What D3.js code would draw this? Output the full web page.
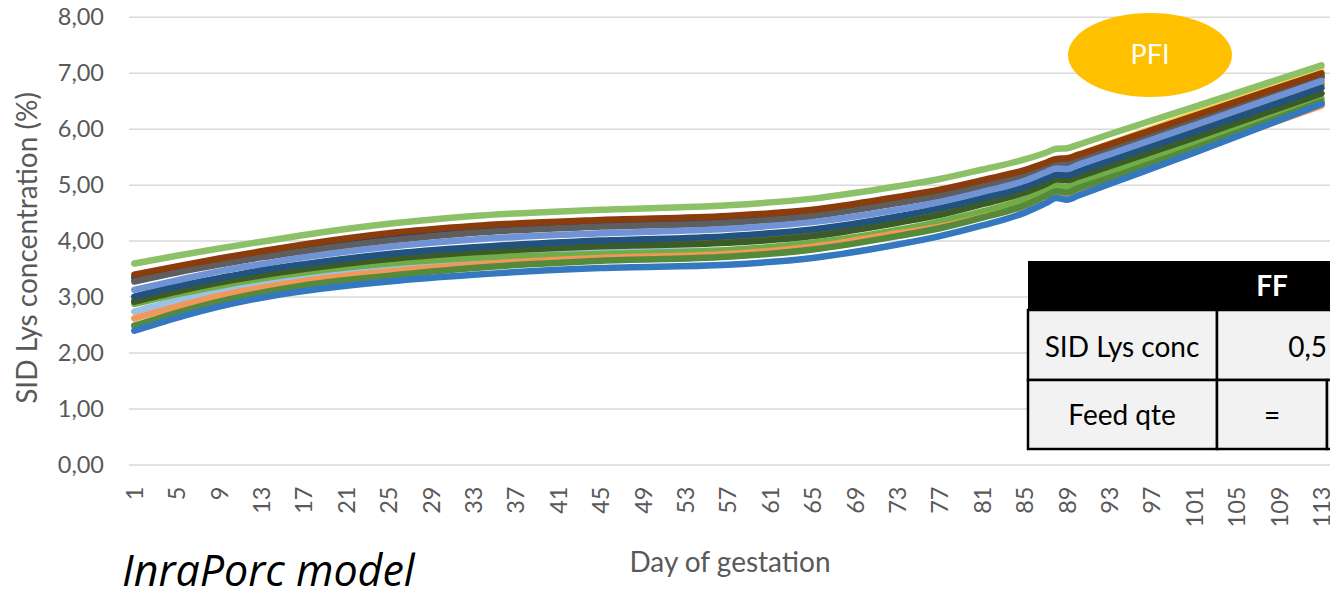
<!DOCTYPE html>
<html>
<head>
<meta charset="utf-8">
<script src="https://cdn.jsdelivr.net/npm/d3@7"></script>
<style>
body {margin:0; background:#fff;}
svg {display:block; font-family:Lato, "Open Sans", sans-serif;}
</style>
</head>
<body>
<svg id="chart"></svg>
<script>
// days (x axis is categorical, one per day of gestation)
var days = d3.range(1, 115);
var tickDays = [1,5,9,13,17,21,25,29,33,37,41,45,49,53,57,61,65,69,73,77,81,85,89,93,97,101,105,109,113];
var yTicks = [0,1,2,3,4,5,6,7,8];

// values read at these days, line drawn through them
var keyDays = [1,5,9,13,17,25,33,45,57,65,73,77,81,85,87,88,89,90,93,101,113];

var lysYellow    = [3.37,3.53,3.67,3.80,3.92,4.12,4.25,4.36,4.43,4.54,4.77,4.90,5.07,5.25,5.38,5.45,5.46,5.53,5.73,6.27,7.06];
var lysNavy      = [3.33,3.48,3.62,3.75,3.87,4.06,4.20,4.31,4.38,4.49,4.71,4.84,5.01,5.20,5.34,5.41,5.41,5.47,5.66,6.17,6.94];
var lysDarkGold  = [2.93,3.12,3.29,3.43,3.55,3.73,3.86,3.98,4.05,4.17,4.40,4.54,4.72,4.93,5.08,5.16,5.15,5.22,5.42,5.97,6.79];
var lysLightBlue = [2.73,2.93,3.10,3.24,3.35,3.52,3.65,3.81,3.82,3.91,4.14,4.26,4.43,4.63,4.80,4.88,4.85,4.92,5.11,5.63,6.46];
var lysGreen     = [2.87,3.04,3.19,3.32,3.43,3.59,3.69,3.76,3.83,3.96,4.19,4.34,4.52,4.74,4.90,4.98,4.96,5.02,5.22,5.73,6.54];
var lysDarkGreen = [2.91,3.09,3.25,3.38,3.49,3.67,3.79,3.90,3.96,4.08,4.32,4.46,4.65,4.86,5.01,5.09,5.08,5.14,5.33,5.84,6.63];
var lysDarkBlue  = [3.00,3.18,3.33,3.47,3.58,3.76,3.88,4.00,4.08,4.20,4.43,4.58,4.76,4.96,5.11,5.18,5.17,5.23,5.43,5.94,6.73];
var lysDarkGrey  = [3.27,3.43,3.57,3.70,3.81,4.00,4.14,4.25,4.32,4.44,4.67,4.80,4.97,5.17,5.31,5.38,5.37,5.43,5.63,6.14,6.91];
var lysBrown     = [3.39,3.54,3.68,3.81,3.93,4.13,4.26,4.37,4.44,4.55,4.78,4.91,5.08,5.26,5.39,5.46,5.47,5.53,5.72,6.23,6.99];
var lysOrange    = [2.61,2.82,3.01,3.16,3.28,3.45,3.57,3.69,3.76,3.89,4.13,4.25,4.42,4.62,4.79,4.87,4.84,4.90,5.10,5.61,6.41];
var lysMedBlue   = [3.12,3.29,3.45,3.58,3.70,3.89,4.02,4.13,4.21,4.33,4.55,4.69,4.87,5.07,5.22,5.29,5.28,5.35,5.54,6.06,6.85];
var lysMidGreen  = [2.48,2.71,2.91,3.07,3.20,3.37,3.51,3.64,3.71,3.84,4.08,4.22,4.41,4.63,4.80,4.88,4.86,4.93,5.12,5.65,6.48];
var lysTopGreen  = [3.59,3.73,3.86,3.98,4.10,4.30,4.44,4.55,4.63,4.75,4.97,5.10,5.27,5.45,5.57,5.64,5.65,5.71,5.90,6.39,7.13];
var lysBlue      = [2.39,2.62,2.82,2.98,3.10,3.27,3.39,3.51,3.57,3.69,3.93,4.08,4.27,4.50,4.67,4.76,4.73,4.80,5.01,5.57,6.44];

// drawing order = excel series order, last one on top
var series = [
    {values:lysYellow,    color:"#FFD34E"},
    {values:lysNavy,      color:"#233F70"},
    {values:lysDarkGold,  color:"#A07800"},
    {values:lysLightBlue, color:"#9BC2E6"},
    {values:lysGreen,     color:"#70AD47"},
    {values:lysDarkGreen, color:"#3B5C26"},
    {values:lysDarkBlue,  color:"#22527F"},
    {values:lysDarkGrey,  color:"#5E5E5E"},
    {values:lysBrown,     color:"#8A3C0D"},
    {values:lysOrange,    color:"#F1975A"},
    {values:lysMedBlue,   color:"#6F93D4"},
    {values:lysMidGreen,  color:"#558A3A"},
    {values:lysTopGreen,  color:"#8CC168"},
    {values:lysBlue,      color:"#3479C0"}
];

var tableText = {head:"FF", row1:"SID Lys conc", val1:"0,5", row2:"Feed qte", val2:"="};

var size = {width:1330, height:595};
var plot = {left:129, top:16.7, bottom:464.5, step:10.6};

var svg = d3.select("#chart")
    .attr("width", size.width)
    .attr("height", size.height);

var xScale = d3.scaleBand()
    .domain(days)
    .range([plot.left, plot.left + days.length*plot.step]);

var yScale = d3.scaleLinear()
    .domain([0, 8])
    .range([plot.bottom, plot.top]);

var fmt = d3.formatLocale({decimal:",", thousands:".", grouping:[3], currency:["","€"]}).format(".2f");

//gridlines + y labels
var yAxis = d3.axisLeft(yScale)
    .tickValues(yTicks)
    .tickSize(-(size.width - plot.left + 20))
    .tickPadding(25)
    .tickFormat(fmt);

var yG = svg.append("g")
    .attr("transform", "translate(" + plot.left + ",0)")
    .call(yAxis);
yG.select(".domain").remove();
yG.selectAll("line").attr("stroke", "#D9D9D9").attr("stroke-width", 1.5);
yG.selectAll("text")
    .attr("fill", "#595959")
    .style("font-size", "23.5px")
    .style("font-family", "Lato, sans-serif");

//x labels, rotated
var xAxis = d3.axisBottom(xScale)
    .tickValues(tickDays)
    .tickSize(0);

var xG = svg.append("g")
    .attr("transform", "translate(0," + plot.bottom + ")")
    .call(xAxis);
xG.select(".domain").remove();
xG.selectAll("text")
    .attr("transform", "rotate(-90)")
    .attr("text-anchor", "end")
    .attr("x", -22)
    .attr("y", 0)
    .attr("dy", "0.36em")
    .attr("fill", "#595959")
    .style("font-size", "23.5px")
    .style("font-family", "Lato, sans-serif");

//lines
var line = d3.line()
    .x(function(d){ return xScale(d.day) + xScale.bandwidth()/2; })
    .y(function(d){ return yScale(d.v); })
    .curve(d3.curveMonotoneX);

svg.append("g")
    .selectAll("path")
    .data(series)
    .enter()
    .append("path")
    .attr("d", function(s){
        return line(keyDays.map(function(day, i){ return {day:day, v:s.values[i]}; }));
    })
    .attr("fill", "none")
    .attr("stroke", function(s){ return s.color; })
    .attr("stroke-width", 6.5)
    .attr("stroke-linecap", "round")
    .attr("stroke-linejoin", "round");

//axis titles
svg.append("text")
    .attr("transform", "translate(27,248) rotate(-90)")
    .attr("text-anchor", "middle")
    .attr("dy", "0.35em")
    .attr("fill", "#595959")
    .style("font-size", "28px")
    .text("SID Lys concentration (%)");

svg.append("text")
    .attr("x", 730)
    .attr("y", 572)
    .attr("text-anchor", "middle")
    .attr("fill", "#595959")
    .style("font-size", "28px")
    .text("Day of gestation");

svg.append("text")
    .attr("x", 122)
    .attr("y", 586)
    .attr("fill", "#000")
    .style("font-family", "'Open Sans', sans-serif")
    .style("font-size", "43px")
    .style("font-style", "italic")
    .text("InraPorc model");

//PFI bubble
svg.append("ellipse")
    .attr("cx", 1150).attr("cy", 55)
    .attr("rx", 82).attr("ry", 42)
    .attr("fill", "#FFC000");
svg.append("text")
    .attr("x", 1150).attr("y", 55)
    .attr("dy", "0.35em")
    .attr("text-anchor", "middle")
    .attr("fill", "#fff")
    .style("font-size", "27px")
    .text("PFI");

//pasted table
var tbl = svg.append("g");
tbl.append("rect")
    .attr("x", 1028).attr("y", 261).attr("width", 360).attr("height", 49)
    .attr("fill", "#000");
var cells = [
    [1028, 310, 189, 70], [1217, 310, 171, 70],
    [1028, 380, 189, 69], [1217, 380, 110, 69], [1327, 380, 61, 69]
];
tbl.selectAll(".cell")
    .data(cells)
    .enter()
    .append("rect")
    .attr("class", "cell")
    .attr("x", function(c){ return c[0]; })
    .attr("y", function(c){ return c[1]; })
    .attr("width", function(c){ return c[2]; })
    .attr("height", function(c){ return c[3]; })
    .attr("fill", "#F2F2F2")
    .attr("stroke", "#000")
    .attr("stroke-width", 2.5);

var addCellText = function(x, y, anchor, txt, color, weight)
{
    tbl.append("text")
        .attr("x", x).attr("y", y)
        .attr("dy", "0.35em")
        .attr("text-anchor", anchor)
        .attr("fill", color)
        .style("font-size", "28px")
        .style("font-weight", weight)
        .text(txt);
}
addCellText(1272, 286, "middle", tableText.head, "#fff", "bold");
addCellText(1122, 347, "middle", tableText.row1, "#000", "normal");
addCellText(1327, 347, "end", tableText.val1, "#000", "normal");
addCellText(1122, 415, "middle", tableText.row2, "#000", "normal");
addCellText(1272, 415, "middle", tableText.val2, "#000", "normal");
</script>
</body>
</html>
